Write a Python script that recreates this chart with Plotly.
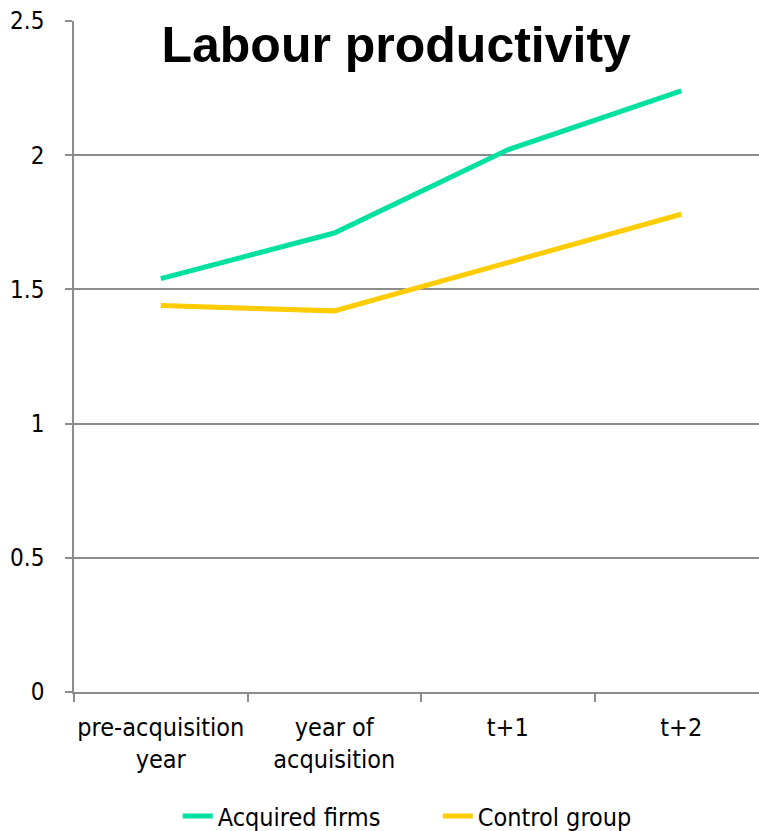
import plotly.graph_objects as go

categories = ["pre-acquisition<br>year", "year of<br>acquisition", "t+1", "t+2"]
acquired_firms = [1.54, 1.71, 2.02, 2.24]
control_group = [1.44, 1.42, 1.60, 1.78]
y_ticks = [0, 0.5, 1, 1.5, 2, 2.5]
y_tick_labels = ["0", "0.5", "1", "1.5", "2", "2.5"]

FONT = "DejaVu Sans Condensed, Arial, sans-serif"

fig = go.Figure()
fig.add_trace(go.Scatter(
    x=categories, y=acquired_firms, mode="lines", name="Acquired firms",
    line=dict(color="#00E0A0", width=5),
))
fig.add_trace(go.Scatter(
    x=categories, y=control_group, mode="lines", name="Control group",
    line=dict(color="#FFCC00", width=5),
))

fig.update_layout(
    width=759, height=831,
    margin=dict(l=74, r=0, t=21, b=139, autoexpand=False),
    paper_bgcolor="white", plot_bgcolor="white",
    font=dict(family=FONT, size=25, color="black"),
    title=dict(
        text="<b>Labour productivity</b>",
        font=dict(family="Liberation Sans, Arial, sans-serif", size=50, color="black"),
        x=0.522, xanchor="center", y=0.947, yanchor="middle",
    ),
    showlegend=True,
    legend=dict(
        orientation="h", x=0.531, xanchor="center", y=-0.185, yanchor="middle",
        font=dict(family=FONT, size=25), tracegroupgap=0,
        entrywidth=215, entrywidthmode="pixels",
    ),
)

fig.update_xaxes(
    type="category", range=[-0.5, 3.448],
    showline=True, linecolor="#8c8c8c", linewidth=1.5,
    ticks="outside", ticklen=8, tickcolor="#8c8c8c", tickwidth=1.5,
    tickson="boundaries", showgrid=False, zeroline=False,
    ticklabelstandoff=12, tickangle=0, automargin=False,
)
fig.update_yaxes(
    range=[0, 2.5], tickvals=y_ticks, ticktext=y_tick_labels,
    showline=True, linecolor="#8c8c8c", linewidth=1.5,
    ticks="outside", ticklen=7, tickcolor="#8c8c8c", tickwidth=1.5,
    showgrid=True, gridcolor="#8c8c8c", gridwidth=1.5, zeroline=False,
    ticklabelstandoff=16, tickfont=dict(size=24), automargin=False,
)

fig.write_html("out.html")
